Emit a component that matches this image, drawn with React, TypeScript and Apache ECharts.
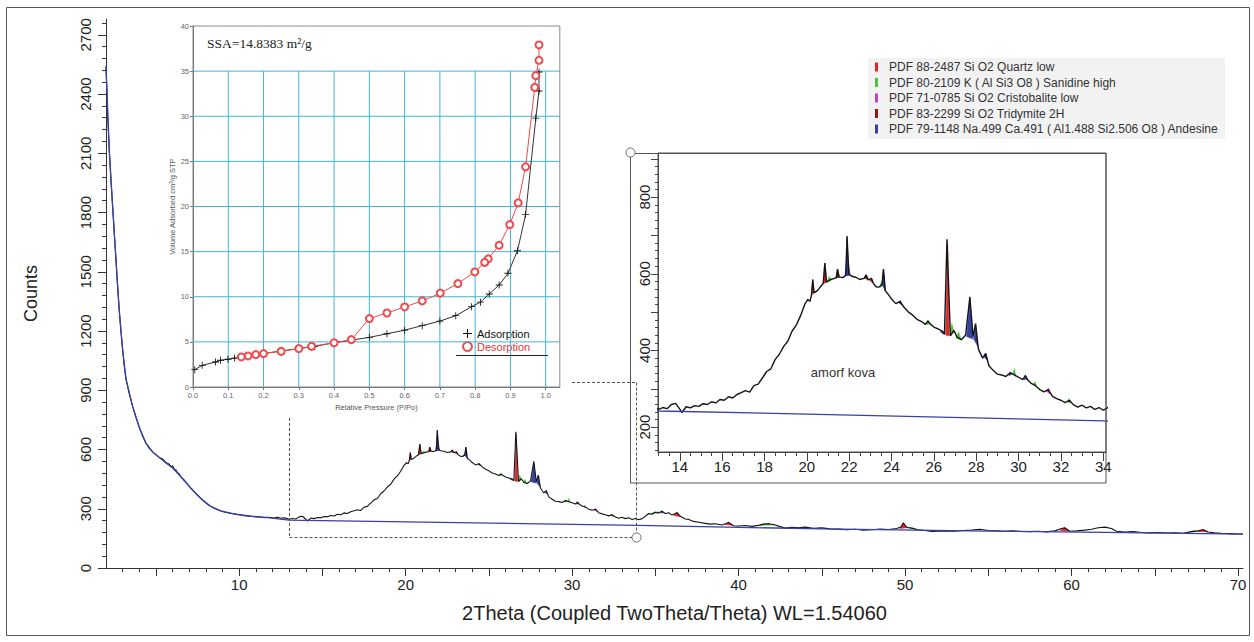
import React, { useEffect, useRef } from "react";
import * as echarts from "echarts";

// ---------- XRD pattern (2Theta, Counts) ----------
const lowAnglePattern: number[][] = [
  [2.0, 2540], [2.05, 2420], [2.1, 2290], [2.2, 2110], [2.3, 1960], [2.4, 1830], [2.5, 1690],
  [2.6, 1560], [2.7, 1420], [2.8, 1300], [2.9, 1195], [3.0, 1105], [3.1, 1020], [3.2, 958],
  [3.4, 880], [3.6, 818], [3.8, 762], [4.0, 712], [4.2, 668], [4.4, 632], [4.6, 606], [4.8, 588],
  [5.0, 574], [5.2, 560], [5.4, 552], [5.6, 534], [5.8, 526], [5.9, 512], [6.0, 518], [6.1, 500],
  [6.2, 496], [6.3, 482], [6.4, 476], [6.5, 462], [6.7, 445], [6.9, 424], [7.1, 404], [7.3, 386],
  [7.5, 368], [7.7, 352], [7.9, 336], [8.1, 322], [8.3, 312], [8.5, 302], [8.7, 295], [8.9, 289],
  [9.1, 284], [9.3, 280], [9.5, 276], [9.7, 274], [9.9, 270], [10.1, 268], [10.3, 265], [10.5, 264],
  [10.7, 262], [10.9, 260], [11.1, 259], [11.3, 258], [11.5, 255], [11.7, 257], [11.9, 256],
  [12.1, 253], [12.3, 257], [12.5, 252], [12.7, 254], [12.9, 250],
];

const humpPattern: number[][] = [
  [13.0, 246], [13.2, 251], [13.4, 248], [13.6, 259], [13.8, 262], [14.0, 247], [14.1, 238],
  [14.3, 253], [14.5, 250], [14.7, 256], [14.9, 254], [15.1, 261], [15.3, 259], [15.5, 266],
  [15.7, 263], [15.9, 272], [16.1, 270], [16.3, 279], [16.5, 276], [16.7, 285], [16.9, 290],
  [17.1, 295], [17.3, 291], [17.5, 308], [17.7, 312], [17.9, 328], [18.1, 345], [18.3, 352],
  [18.5, 376], [18.7, 390], [18.9, 410], [19.1, 424], [19.3, 450], [19.5, 466], [19.7, 490],
  [19.9, 520], [20.05, 533], [20.15, 528], [20.22, 545], [20.28, 585], [20.34, 550], [20.5, 556],
  [20.7, 570], [20.78, 575], [20.85, 628], [20.93, 578], [21.1, 584], [21.3, 588], [21.4, 590],
  [21.45, 612], [21.52, 592], [21.7, 590], [21.84, 596], [21.9, 698], [21.98, 600], [22.1, 594],
  [22.3, 591], [22.5, 585], [22.7, 588], [22.8, 597], [22.9, 584], [23.05, 588], [23.15, 574],
  [23.3, 565], [23.45, 566], [23.55, 572], [23.62, 612], [23.7, 556], [23.85, 546], [24.0, 534],
  [24.2, 522], [24.4, 528], [24.6, 512], [24.8, 500], [25.0, 492], [25.2, 481], [25.4, 476],
  [25.6, 468], [25.72, 477], [25.85, 468], [26.0, 461], [26.2, 456], [26.4, 450], [26.5, 442],
  [26.62, 690], [26.78, 438], [26.95, 452], [27.1, 434], [27.3, 428], [27.5, 440], [27.7, 540],
  [27.85, 436], [27.97, 470], [28.1, 404], [28.3, 380], [28.45, 392], [28.6, 360], [28.8, 348],
  [29.0, 338], [29.2, 336], [29.4, 332], [29.6, 342], [29.8, 336], [30.0, 330], [30.2, 324],
  [30.32, 334], [30.45, 322], [30.6, 314], [30.8, 308], [31.0, 298], [31.2, 292], [31.4, 298],
  [31.6, 280], [31.8, 274], [32.0, 270], [32.2, 264], [32.4, 270], [32.6, 258], [32.8, 252],
  [33.0, 257], [33.2, 250], [33.4, 254], [33.6, 246], [33.8, 251], [34.0, 244],
];

const highAnglePattern: number[][] = [
  [34.2, 250], [34.4, 262], [34.6, 276], [34.8, 272], [35.0, 282], [35.2, 278], [35.4, 288],
  [35.6, 276], [35.8, 280], [36.0, 268], [36.3, 280], [36.5, 262], [36.8, 248], [37.0, 246],
  [37.3, 236], [37.6, 232], [38.0, 226], [38.3, 222], [38.6, 224], [39.0, 218], [39.4, 230],
  [39.7, 214], [40.0, 213], [40.4, 215], [40.8, 211], [41.2, 216], [41.5, 222], [41.8, 224],
  [42.1, 220], [42.4, 212], [42.8, 202], [43.2, 206], [43.6, 204], [44.0, 207], [44.5, 201],
  [45.0, 203], [45.5, 198], [46.0, 197], [46.5, 194], [47.0, 196], [47.5, 192], [48.0, 194],
  [48.5, 197], [49.0, 195], [49.5, 200], [49.75, 208], [49.9, 228], [50.1, 206], [50.4, 201],
  [50.8, 194], [51.2, 190], [51.6, 185], [52.0, 186], [52.5, 188], [53.0, 186], [53.5, 190],
  [54.0, 192], [54.5, 196], [55.0, 190], [55.5, 189], [56.0, 186], [56.5, 188], [57.0, 185],
  [57.5, 184], [58.0, 186], [58.5, 183], [59.0, 188], [59.4, 200], [59.6, 203], [59.9, 186],
  [60.3, 188], [60.8, 192], [61.2, 196], [61.6, 204], [62.0, 207], [62.4, 200], [62.7, 186],
  [63.2, 182], [63.7, 184], [64.2, 180], [64.7, 178], [65.2, 180], [65.7, 177], [66.2, 178],
  [66.7, 176], [67.2, 184], [67.6, 188], [67.9, 194], [68.2, 182], [68.6, 178], [69.0, 176],
  [69.5, 174], [70.0, 172], [70.3, 172],
];

// fitted background (blue)
const backgroundPattern: number[][] = [
  [2.0, 2540], [2.2, 2110], [2.4, 1830], [2.6, 1560], [2.8, 1300], [3.0, 1105], [3.2, 958],
  [3.6, 818], [4.0, 712], [4.4, 632], [4.8, 588], [5.2, 560], [5.6, 532], [6.0, 506], [6.5, 462],
  [7.1, 404], [7.7, 352], [8.3, 312], [8.9, 289], [9.7, 274], [10.7, 262], [11.7, 255],
  [13.0, 242], [20.0, 234], [34.0, 216], [45.0, 198], [55.0, 187], [62.0, 180], [70.3, 172],
];

// phase reference patterns
const phaseNames = [
  "PDF 88-2487 Si O2 Quartz low",
  "PDF 80-2109 K ( Al Si3 O8 ) Sanidine high",
  "PDF 71-0785 Si O2 Cristobalite low",
  "PDF 83-2299 Si O2 Tridymite 2H",
  "PDF 79-1148 Na.499 Ca.491 ( Al1.488 Si2.506 O8 ) Andesine",
];
// [phase, left 2θ, peak 2θ, right 2θ, left base, top, right base]
const phasePeaks: number[][] = [
  [0, 20.22, 20.28, 20.34, 545, 585, 550],
  [0, 20.76, 20.85, 20.94, 574, 628, 578],
  [1, 20.95, 21.05, 21.2, 579, 592, 585],
  [3, 21.36, 21.45, 21.54, 589, 612, 591],
  [4, 21.8, 21.92, 22.04, 594, 652, 596],
  [2, 21.84, 21.9, 21.98, 596, 698, 600],
  [3, 22.72, 22.8, 22.88, 588, 597, 585],
  [0, 22.97, 23.05, 23.13, 582, 588, 576],
  [1, 23.42, 23.52, 23.6, 566, 578, 570],
  [4, 23.55, 23.62, 23.72, 572, 612, 554],
  [4, 24.34, 24.42, 24.5, 524, 530, 518],
  [1, 25.6, 25.72, 25.84, 468, 478, 468],
  [4, 26.3, 26.4, 26.5, 448, 452, 442],
  [0, 26.56, 26.65, 26.72, 440, 678, 438],
  [1, 26.74, 26.85, 26.95, 438, 470, 448],
  [1, 27.06, 27.16, 27.3, 432, 448, 428],
  [4, 27.55, 27.7, 27.84, 436, 532, 430],
  [4, 27.88, 27.97, 28.08, 430, 468, 410],
  [4, 28.36, 28.44, 28.52, 384, 392, 374],
  [4, 29.54, 29.6, 29.68, 334, 344, 338],
  [1, 29.72, 29.8, 29.88, 338, 352, 332],
  [4, 30.26, 30.32, 30.4, 324, 336, 324],
  [1, 30.7, 30.78, 30.86, 312, 318, 306],
  [2, 31.34, 31.42, 31.5, 292, 302, 286],
  [1, 32.3, 32.38, 32.46, 266, 274, 262],
  [1, 34.6, 35.0, 35.4, 272, 284, 284],
  [4, 35.3, 35.4, 35.5, 280, 290, 278],
  [0, 36.1, 36.3, 36.5, 266, 282, 260],
  [0, 39.2, 39.4, 39.6, 220, 232, 216],
  [1, 41.3, 41.7, 42.1, 216, 226, 218],
  [0, 49.7, 49.9, 50.1, 200, 230, 204],
  [1, 50.1, 50.4, 50.7, 204, 206, 196],
  [0, 59.3, 59.6, 59.9, 190, 205, 186],
  [1, 67.0, 67.3, 67.6, 180, 188, 186],
  [0, 67.6, 67.9, 68.2, 186, 196, 182],
];

// ---------- BET isotherm ----------
const adsorption: number[][] = [
  [0.005, 1.92], [0.026, 2.4], [0.064, 2.77], [0.078, 2.96], [0.099, 3.07], [0.118, 3.2],
  [0.137, 3.33], [0.156, 3.44], [0.18, 3.59], [0.2, 3.7], [0.25, 4.0], [0.3, 4.25], [0.345, 4.5],
  [0.4, 4.9], [0.45, 5.2], [0.5, 5.5], [0.55, 5.9], [0.6, 6.3], [0.65, 6.8], [0.7, 7.3],
  [0.745, 7.9], [0.79, 8.9], [0.815, 9.4], [0.84, 10.3], [0.868, 11.3], [0.893, 12.6],
  [0.92, 15.1], [0.943, 19.1], [0.972, 29.8], [0.981, 32.8], [0.981, 34.9],
];
const desorption: number[][] = [
  [0.981, 37.9], [0.981, 36.2], [0.972, 34.5], [0.969, 33.2], [0.943, 24.4], [0.922, 20.4],
  [0.898, 18.0], [0.868, 15.7], [0.837, 14.2], [0.827, 13.8], [0.799, 12.75], [0.751, 11.46],
  [0.701, 10.4], [0.65, 9.54], [0.6, 8.87], [0.55, 8.2], [0.5, 7.58], [0.449, 5.25], [0.4, 4.9],
  [0.336, 4.5], [0.3, 4.25], [0.25, 3.95], [0.2, 3.7], [0.178, 3.59], [0.156, 3.44], [0.137, 3.33],
];
const betGridX = [0.1, 0.2, 0.3, 0.4, 0.5, 0.6, 0.7, 0.8, 0.9, 1.0];
const betGridY = [5, 10, 15, 20, 25, 30, 35];

// tick label values
const mainXLabels = [10, 20, 30, 40, 50, 60, 70];
const mainYLabels = [0, 300, 600, 900, 1200, 1500, 1800, 2100, 2400, 2700];
const insetXLabels = [14, 16, 18, 20, 22, 24, 26, 28, 30, 32, 34];
const insetYLabels = [200, 400, 600, 800];
const betXLabels = [0, 0.1, 0.2, 0.3, 0.4, 0.5, 0.6, 0.7, 0.8, 0.9, 1.0];
const betYLabels = [0, 5, 10, 15, 20, 25, 30, 35, 40];

const range = (a: number, b: number, s: number) => {
  const out: number[] = [];
  for (let v = a; v <= b + 1e-9; v += s) out.push(Math.round(v * 1000) / 1000);
  return out;
};

const phaseColors = ["#e3262c", "#4cc23a", "#c53fc6", "#8a1c1c", "#3642a0"];
const FN = "'Liberation Sans Narrow', 'Liberation Sans', Arial, sans-serif";
const FS = "'Liberation Sans', Arial, sans-serif";
const PLUS =
  "path://M4.4,0 L5.6,0 L5.6,4.4 L10,4.4 L10,5.6 L5.6,5.6 L5.6,10 L4.4,10 L4.4,5.6 L0,5.6 L0,4.4 L4.4,4.4 Z";
const plain = (v: number) => String(v);

export default function App() {
  const ref = useRef<HTMLDivElement>(null);
  useEffect(() => {
    const chart = echarts.init(ref.current!, null, { renderer: "svg" });
    const pattern = [...lowAnglePattern, ...humpPattern, ...highAnglePattern];

    const peakSeries = (gridAxis: number, z: number, filterFn: (p: number[]) => boolean) =>
      phaseNames.map((name, i) => ({
        type: "custom",
        name,
        xAxisIndex: gridAxis,
        yAxisIndex: gridAxis,
        z,
        clip: true,
        color: phaseColors[i],
        encode: { x: [0, 1, 2], y: [3, 4, 5] },
        data: phasePeaks.filter((p) => p[0] === i && filterFn(p)).map((p) => p.slice(1)),
        renderItem: (_p: any, api: any) => {
          const a = api.coord([api.value(0), api.value(3)]);
          const b = api.coord([api.value(1), api.value(4)]);
          const c = api.coord([api.value(2), api.value(5)]);
          return {
            type: "polygon",
            shape: { points: [a, b, c] },
            style: { fill: phaseColors[i], stroke: phaseColors[i], lineWidth: 0.6 },
          };
        },
      }));

    const axisBase = (grid: number, min: number, max: number, pos: string) => ({
      gridIndex: grid,
      type: "value",
      min,
      max,
      position: pos,
      splitLine: { show: false },
    });

    const betLines = [
      ...betGridX.map((x) => [x, 0, x, 35]),
      ...betGridY.map((y) => [0, y, 1.04, y]),
    ];

    const option: any = {
      animation: false,
      backgroundColor: "#ffffff",
      grid: [
        { left: 106, top: 19, width: 1137, height: 549, outerBoundsMode: "none", show: false },
        {
          left: 658, top: 153, width: 448, height: 299, outerBoundsMode: "none", show: true,
          borderColor: "#555", borderWidth: 1, backgroundColor: "#fff",
        },
        {
          left: 193, top: 26, width: 366.8, height: 361, outerBoundsMode: "none", show: true,
          borderColor: "#8a8a8a", borderWidth: 1, backgroundColor: "#fff",
        },
      ],
      xAxis: [
        {
          ...axisBase(0, 2, 70.3, "bottom"),
          axisLine: { show: true, lineStyle: { color: "#333", width: 1 } },
          axisTick: { show: true, customValues: range(3, 70, 1), length: 4, lineStyle: { color: "#333" } },
          axisLabel: { customValues: mainXLabels, fontSize: 15, color: "#222", fontFamily: FN, margin: 9, formatter: plain },
          name: "2Theta (Coupled TwoTheta/Theta) WL=1.54060",
          nameLocation: "middle",
          nameGap: 35,
          nameTextStyle: { fontSize: 20, fontFamily: FN, color: "#222" },
        },
        {
          ...axisBase(0, 2, 70.3, "bottom"),
          axisLine: { show: false },
          axisTick: { show: true, customValues: range(5, 70, 5), length: 8, lineStyle: { color: "#333" } },
          axisLabel: { show: false },
        },
        {
          ...axisBase(1, 12.97, 34.13, "bottom"),
          axisLine: { show: true, lineStyle: { color: "#444" } },
          axisTick: { show: true, customValues: range(13, 34, 0.5), length: 4, lineStyle: { color: "#444" } },
          axisLabel: { customValues: insetXLabels, fontSize: 15, color: "#222", fontFamily: FN, margin: 7, formatter: plain },
        },
        {
          ...axisBase(1, 12.97, 34.13, "bottom"),
          axisLine: { show: false },
          axisTick: { show: true, customValues: insetXLabels, length: 9, lineStyle: { color: "#444" } },
          axisLabel: { show: false },
        },
        {
          ...axisBase(2, 0, 1.04, "bottom"),
          axisLine: { show: true, lineStyle: { color: "#777" } },
          axisTick: { show: true, customValues: betXLabels, length: 3, lineStyle: { color: "#777" } },
          axisLabel: {
            customValues: betXLabels, fontSize: 7.5, color: "#666", fontFamily: FS, margin: 4,
            formatter: (v: number) => v.toFixed(1),
          },
          name: "Relative Pressure (P/Po)",
          nameLocation: "middle",
          nameGap: 16,
          nameTextStyle: { fontSize: 7.5, color: "#555", fontFamily: FS },
        },
      ],
      yAxis: [
        {
          ...axisBase(0, 0, 2780, "left"),
          axisLine: { show: true, lineStyle: { color: "#333", width: 1 } },
          axisTick: { show: true, customValues: range(0, 2760, 60), length: 4, lineStyle: { color: "#333" } },
          axisLabel: { customValues: mainYLabels, rotate: 90, fontSize: 15, color: "#222", fontFamily: FN, margin: 13, formatter: plain },
          name: "Counts",
          nameLocation: "middle",
          nameGap: 66,
          nameTextStyle: { fontSize: 18, fontFamily: FS, color: "#222" },
        },
        {
          ...axisBase(0, 0, 2780, "left"),
          axisLine: { show: false },
          axisTick: { show: true, customValues: mainYLabels, length: 8, lineStyle: { color: "#333" } },
          axisLabel: { show: false },
        },
        {
          ...axisBase(1, 135, 915, "left"),
          axisLine: { show: true, lineStyle: { color: "#444" } },
          axisTick: { show: true, customValues: range(140, 900, 20), length: 3, lineStyle: { color: "#444" } },
          axisLabel: { customValues: insetYLabels, rotate: 90, fontSize: 15, color: "#222", fontFamily: FN, margin: 6, formatter: plain },
        },
        {
          ...axisBase(1, 135, 915, "left"),
          axisLine: { show: false },
          axisTick: { show: true, customValues: range(200, 900, 100), length: 7, lineStyle: { color: "#444" } },
          axisLabel: { show: false },
        },
        {
          ...axisBase(2, 0, 40, "left"),
          axisLine: { show: true, lineStyle: { color: "#777" } },
          axisTick: { show: true, customValues: betYLabels, length: 3, lineStyle: { color: "#777" } },
          axisLabel: { customValues: betYLabels, fontSize: 7.5, color: "#666", fontFamily: FS, margin: 4, formatter: plain },
          name: "Volume Adsorbed cm³/g STP",
          nameLocation: "middle",
          nameGap: 15,
          nameTextStyle: { fontSize: 7.5, color: "#555", fontFamily: FS },
        },
      ],
      legend: [
        {
          data: phaseNames,
          orient: "vertical",
          left: 868,
          top: 58,
          icon: "rect",
          itemWidth: 3,
          itemHeight: 9,
          itemGap: 1.5,
          padding: [2, 6, 3, 7],
          backgroundColor: "#f2f2f2",
          selectedMode: false,
          textStyle: { fontSize: 12, color: "#333", fontFamily: FS, padding: [0, 0, 0, 6], lineHeight: 14 },
        },
        {
          data: [
            { name: "Adsorption", icon: PLUS, textStyle: { color: "#111" } },
            { name: "Desorption", icon: "emptyCircle", textStyle: { color: "#e8363a" } },
          ],
          orient: "vertical",
          left: 455,
          top: 326,
          itemWidth: 9,
          itemHeight: 9,
          itemGap: 2,
          padding: [2, 22, 2, 7],
          backgroundColor: "#fff",
          selectedMode: false,
          textStyle: { fontSize: 11, fontFamily: FS },
        },
      ],
      graphic: [
        // outer picture frame
        { type: "rect", shape: { x: 6.5, y: 7.5, width: 1243, height: 628 }, style: { fill: "none", stroke: "#555", lineWidth: 1 }, z: 10 },
        // zoom connectors
        { type: "line", shape: { x1: 289.5, y1: 418, x2: 289.5, y2: 537.5 }, style: { stroke: "#555", lineWidth: 1, lineDash: [3, 2] }, z: 10 },
        { type: "line", shape: { x1: 289.5, y1: 537.5, x2: 632, y2: 537.5 }, style: { stroke: "#555", lineWidth: 1, lineDash: [3, 2] }, z: 10 },
        { type: "line", shape: { x1: 572, y1: 382.5, x2: 636.5, y2: 382.5 }, style: { stroke: "#555", lineWidth: 1, lineDash: [3, 2] }, z: 10 },
        { type: "line", shape: { x1: 636.5, y1: 382.5, x2: 636.5, y2: 533 }, style: { stroke: "#555", lineWidth: 1, lineDash: [3, 2] }, z: 10 },
        { type: "circle", shape: { cx: 636.5, cy: 537.5, r: 4.5 }, style: { fill: "none", stroke: "#666", lineWidth: 1 }, z: 10 },
        // inset outer frame
        { type: "rect", shape: { x: 630.5, y: 153.5, width: 475.5, height: 329.5 }, style: { fill: "none", stroke: "#555", lineWidth: 1 }, z: 10 },
        { type: "circle", shape: { cx: 630.5, cy: 152.5, r: 4.5 }, style: { fill: "#fff", stroke: "#666", lineWidth: 1 }, z: 11 },
        // inset annotation
        { type: "text", x: 843, y: 372, style: { text: "amorf kova", fontSize: 13, fontFamily: FS, fill: "#333", align: "center", verticalAlign: "middle", textAlign: "center", textVerticalAlign: "middle" }, z: 10 },
        // BET annotations
        { type: "text", x: 207, y: 43, style: { text: "SSA=14.8383 m²/g", fontSize: 13.5, fontFamily: "'Liberation Serif', 'DejaVu Serif', serif", fill: "#222", align: "left", verticalAlign: "middle", textAlign: "left", textVerticalAlign: "middle" }, z: 10 },
        { type: "line", shape: { x1: 456, y1: 355.5, x2: 548, y2: 355.5 }, style: { stroke: "#222", lineWidth: 1.2 }, z: 10 },
      ],
      series: [
        // main pattern
        ...peakSeries(0, 2, () => true),
        {
          type: "line", name: "pattern", xAxisIndex: 0, yAxisIndex: 0, data: pattern, showSymbol: false,
          symbol: "none", lineStyle: { color: "#151515", width: 1.1 }, z: 3, clip: true,
        },
        {
          type: "line", name: "background", xAxisIndex: 0, yAxisIndex: 0, data: backgroundPattern, showSymbol: false,
          symbol: "none", lineStyle: { color: "#3b3fa8", width: 1.3 }, z: 4, clip: true,
        },
        // inset pattern
        ...peakSeries(2, 4, (p) => p[1] >= 12.97 && p[3] <= 34.13),
        {
          type: "line", name: "pattern-inset", xAxisIndex: 2, yAxisIndex: 2, data: pattern, showSymbol: false,
          symbol: "none", lineStyle: { color: "#151515", width: 1.4 }, z: 5, clip: true,
        },
        {
          type: "line", name: "background-inset", xAxisIndex: 2, yAxisIndex: 2, data: backgroundPattern, showSymbol: false,
          symbol: "none", lineStyle: { color: "#3b3fa8", width: 1.3 }, z: 5, clip: true,
        },
        // BET grid lines
        {
          type: "custom", name: "betgrid", xAxisIndex: 4, yAxisIndex: 4, z: 4, silent: true,
          encode: { x: [0, 2], y: [1, 3] },
          data: betLines,
          renderItem: (_p: any, api: any) => {
            const a = api.coord([api.value(0), api.value(1)]);
            const b = api.coord([api.value(2), api.value(3)]);
            return { type: "line", shape: { x1: a[0], y1: a[1], x2: b[0], y2: b[1] }, style: { stroke: "#40b6d6", lineWidth: 1 } };
          },
        },
        {
          type: "line", name: "Adsorption", xAxisIndex: 4, yAxisIndex: 4, data: adsorption,
          symbol: PLUS, symbolSize: 7, showSymbol: true, color: "#111",
          lineStyle: { color: "#333", width: 1 }, itemStyle: { color: "#111" }, z: 6,
        },
        {
          type: "line", name: "Desorption", xAxisIndex: 4, yAxisIndex: 4, data: desorption,
          symbol: "emptyCircle", symbolSize: 7, showSymbol: true, color: "#ef4a4d",
          lineStyle: { color: "#ef4a4d", width: 1 }, itemStyle: { color: "#ef4a4d", borderWidth: 1 }, z: 7,
        },
      ],
    };
    chart.setOption(option);
    return () => chart.dispose();
  }, []);
  return (
    <div
      ref={ref}
      style={{ position: "absolute", left: 0, top: 0, width: 1254, height: 642, background: "#fff" }}
    />
  );
}
